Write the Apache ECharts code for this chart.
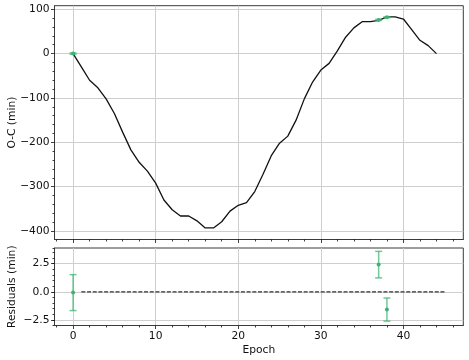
<!DOCTYPE html>
<html>
<head>
<meta charset="utf-8">
<script src="https://cdn.jsdelivr.net/npm/echarts@6/dist/echarts.min.js"></script>
<style>
  html, body { margin: 0; padding: 0; background: #fff; }
  #chart { width: 469px; height: 360px; }
</style>
</head>
<body>
<div id="chart"></div>
<script>
// O-C model curve, one value per epoch
const epochs = [0, 1, 2, 3, 4, 5, 6, 7, 8, 9, 10, 11, 12, 13, 14, 15, 16, 17, 18, 19, 20, 21,
  22, 23, 24, 25, 26, 27, 28, 29, 30, 31, 32, 33, 34, 35, 36, 37, 38, 39, 40, 41, 42, 43, 44]
const ocModel = [0, -30, -60, -77, -102, -135, -177, -217, -245, -265, -292, -330, -352, -366,
  -366, -377, -393, -393, -379, -355, -342, -336, -311, -272, -230, -202, -186, -150, -102,
  -64, -37, -22, 6, 37, 58, 72, 72, 75, 83, 83, 78, 54, 30, 18, 0]

// observed minima
const obsEpochs = [0, 37, 38]
const obsOC = [0, 76, 82]
const obsErr = [1.6, 1.18, 1.03]
const residuals = [-0.07, 2.42, -1.58]

// zero line of the residual panel
const zeroLineX = [1, 45]

// tick labels
const xTicks = [0, 10, 20, 30, 40]
const ocTicks = [-400, -300, -200, -100, 0, 100]
const residTicks = [-2.5, 0, 2.5]

const green = '#3cb371'
const barColor = 'rgba(60,179,113,0.72)'
const frameColor = '#3a3a3a'
const gridColor = '#cfcfcf'
const font = 'DejaVu Sans'

const minus = s => s.replace('-', '\u2212')

function errorBars(params, api) {
  const x = api.value(0)
  const y = api.value(1)
  const e = api.value(2)
  const top = api.coord([x, y + e])
  const bot = api.coord([x, y - e])
  const mid = api.coord([x, y])
  const cap = 3.5
  const style = { stroke: barColor, lineWidth: 1.5 }
  return {
    type: 'group',
    children: [
      { type: 'line', shape: { x1: top[0], y1: top[1], x2: bot[0], y2: bot[1] }, style },
      { type: 'line', shape: { x1: top[0] - cap, y1: top[1], x2: top[0] + cap, y2: top[1] }, style },
      { type: 'line', shape: { x1: bot[0] - cap, y1: bot[1], x2: bot[0] + cap, y2: bot[1] }, style },
      { type: 'circle', shape: { cx: mid[0], cy: mid[1], r: 2 }, style: { fill: green } }
    ]
  }
}

const tickStyle = { color: '#111', width: 0.8 }

function xAxisOf(gridIndex, withLabels) {
  return {
    type: 'value',
    gridIndex,
    min: -2.25,
    max: 47.25,
    name: withLabels ? 'Epoch' : '',
    nameLocation: 'middle',
    nameGap: 19,
    nameMoveOverlap: false,
    nameTextStyle: { fontSize: 10.7, color: '#111', fontFamily: font },
    axisLine: { show: true, onZero: false, lineStyle: { color: frameColor, width: 1 } },
    axisTick: { show: true, customValues: xTicks, length: 3.5, lineStyle: tickStyle },
    minorTick: { show: true, splitNumber: 5, length: 2, lineStyle: tickStyle },
    axisLabel: {
      show: withLabels,
      customValues: xTicks,
      margin: 5,
      fontSize: 10.7,
      color: '#111',
      fontFamily: font,
      formatter: v => minus(String(v))
    },
    splitLine: { show: true, lineStyle: { color: gridColor, width: 1 } }
  }
}

const chart = echarts.init(document.getElementById('chart'))

const option = {
  animation: false,
  grid: [
    { left: 54.5, right: 5.7, top: 5.7, height: 233.8, show: true, borderColor: frameColor, borderWidth: 1, outerBoundsMode: 'none' },
    { left: 54.5, right: 5.7, top: 248, height: 77.5, show: true, borderColor: frameColor, borderWidth: 1, outerBoundsMode: 'none' }
  ],
  xAxis: [xAxisOf(0, false), xAxisOf(1, true)],
  yAxis: [
    {
      type: 'value',
      gridIndex: 0,
      position: 'left',
      min: -419,
      max: 108,
      name: 'O-C (min)',
      nameLocation: 'middle',
      nameGap: 37,
      nameMoveOverlap: false,
      nameTextStyle: { fontSize: 10.7, color: '#111', fontFamily: font },
      axisLine: { show: true, onZero: false, lineStyle: { color: frameColor, width: 1 } },
      axisTick: { show: true, customValues: ocTicks, length: 3.5, lineStyle: tickStyle },
      minorTick: { show: true, splitNumber: 5, length: 2, lineStyle: tickStyle },
      axisLabel: {
        customValues: ocTicks,
        margin: 5,
        fontSize: 10.7,
        color: '#111',
        fontFamily: font,
        formatter: v => minus(String(v))
      },
      splitLine: { show: true, lineStyle: { color: gridColor, width: 1 } }
    },
    {
      type: 'value',
      gridIndex: 1,
      position: 'left',
      min: -3,
      max: 3.9,
      name: 'Residuals (min)',
      nameLocation: 'middle',
      nameGap: 37,
      nameMoveOverlap: false,
      nameTextStyle: { fontSize: 10.7, color: '#111', fontFamily: font },
      axisLine: { show: true, onZero: false, lineStyle: { color: frameColor, width: 1 } },
      axisTick: { show: true, customValues: residTicks, length: 3.5, lineStyle: tickStyle },
      axisLabel: {
        customValues: residTicks,
        margin: 5,
        fontSize: 10.7,
        color: '#111',
        fontFamily: font,
        formatter: v => minus(v.toFixed(1))
      },
      splitLine: { show: true, lineStyle: { color: gridColor, width: 1 } }
    },
    {
      // only the small ticks every 0.5
      type: 'value',
      gridIndex: 1,
      position: 'left',
      offset: 0,
      min: -3,
      max: 3.9,
      interval: 0.5,
      axisLine: { show: false, onZero: false },
      axisTick: { show: true, length: 2, lineStyle: tickStyle },
      axisLabel: { show: false },
      splitLine: { show: false }
    }
  ],
  series: [
    {
      type: 'line',
      xAxisIndex: 0,
      yAxisIndex: 0,
      data: epochs.map((e, i) => [e, ocModel[i]]),
      showSymbol: false,
      lineStyle: { color: '#111', width: 1.3 },
      z: 3
    },
    {
      type: 'custom',
      xAxisIndex: 0,
      yAxisIndex: 0,
      renderItem: errorBars,
      data: obsEpochs.map((e, i) => [e, obsOC[i], obsErr[i]]),
      z: 4
    },
    {
      type: 'line',
      xAxisIndex: 1,
      yAxisIndex: 1,
      data: zeroLineX.map(x => [x, 0]),
      showSymbol: false,
      lineStyle: { color: '#333', width: 1.3, type: [4, 1.7] },
      z: 3
    },
    {
      type: 'custom',
      xAxisIndex: 1,
      yAxisIndex: 1,
      renderItem: errorBars,
      data: obsEpochs.map((e, i) => [e, residuals[i], obsErr[i]]),
      z: 4
    }
  ]
}

chart.setOption(option)
</script>
</body>
</html>
